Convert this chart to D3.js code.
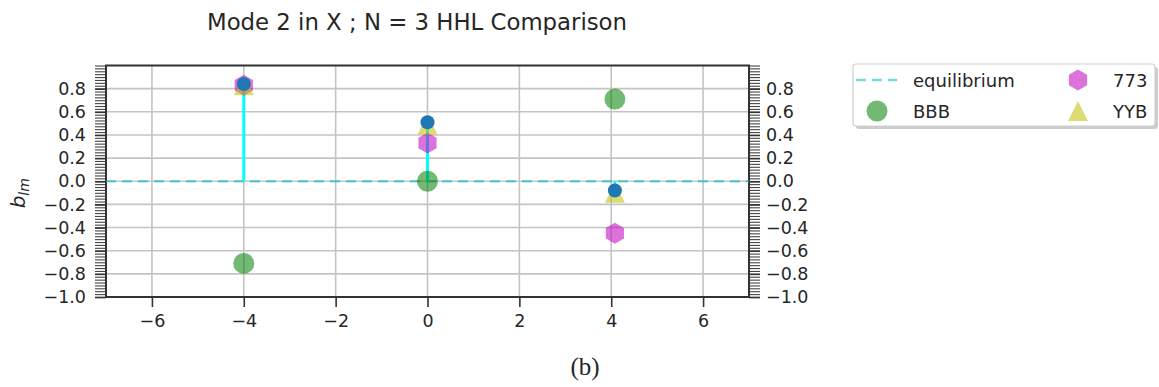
<!DOCTYPE html>
<html>
<head>
<meta charset="utf-8">
<script src="https://cdn.jsdelivr.net/npm/d3@7"></script>
<style>
  html, body { margin: 0; padding: 0; background: #fff; }
  svg { display: block; }
  text { font-family: "DejaVu Sans", sans-serif; fill: #262626; }
</style>
</head>
<body>
<svg id="chart" width="1159" height="387"></svg>
<script>
// Mode positions along X
const positions = [-4, 0, 4.08];
// Stem (HHL) amplitudes
const stemValues = [0.84, 0.51, -0.08];
// Comparison series
const bbbValues = [-0.71, 0.0, 0.71];
const s773Values = [0.83, 0.33, -0.45];
const yybValues = [0.83, 0.49, -0.10];
// Equilibrium level
const equilibrium = 0;
// Tick labels
const xTicks = [-6, -4, -2, 0, 2, 4, 6];
const yTicks = [-1.0, -0.8, -0.6, -0.4, -0.2, 0.0, 0.2, 0.4, 0.6, 0.8];
const legendLabels = ["equilibrium", "BBB", "773", "YYB"];

const svg = d3.select("#chart");
const plot = { left: 106, right: 749, top: 65.5, bottom: 297 };

const x = d3.scaleLinear().domain([-7, 7]).range([plot.left, plot.right]);
const y = d3.scaleLinear().domain([-1, 1]).range([plot.bottom, plot.top]);

// Title
svg.append("text")
  .attr("x", 417).attr("y", 30)
  .attr("text-anchor", "middle")
  .style("font-size", "22.8px")
  .text("Mode 2 in X ; N = 3 HHL Comparison");

// Grid
const grid = svg.append("g");
grid.selectAll(".gx").data(xTicks).join("line")
  .attr("x1", d => x(d)).attr("x2", d => x(d))
  .attr("y1", plot.top).attr("y2", plot.bottom)
  .attr("stroke", "#c4c4c4").attr("stroke-width", 1.6);
grid.selectAll(".gy").data(yTicks).join("line")
  .attr("x1", plot.left).attr("x2", plot.right)
  .attr("y1", d => y(d)).attr("y2", d => y(d))
  .attr("stroke", "#c4c4c4").attr("stroke-width", 1.6);

// Axes
const minorY = d3.range(-1, 1.0001, 0.025);
const tickFmt = d3.format(".1f");
const fmt = d => tickFmt(d).replace("-", "\u2212");

const xAxis = d3.axisBottom(x).tickValues(xTicks).tickSize(10).tickPadding(8)
  .tickFormat(d => String(d).replace("-", "\u2212"));
const gx = svg.append("g").attr("transform", `translate(0,${plot.bottom})`).call(xAxis);
gx.select(".domain").remove();
gx.selectAll("line").attr("stroke", "#333").attr("stroke-width", 1.6);
gx.selectAll("text").style("font-size", "17.5px").attr("fill", "#262626")
  .style("font-family", "'DejaVu Sans', sans-serif");

const leftMinor = d3.axisLeft(y).tickValues(minorY).tickSize(11).tickFormat("");
const gLm = svg.append("g").attr("transform", `translate(${plot.left},0)`).call(leftMinor);
gLm.select(".domain").remove();
gLm.selectAll("line").attr("stroke", "#444").attr("stroke-width", 1.1);

const leftAxis = d3.axisLeft(y).tickValues(yTicks).tickSize(11).tickPadding(9).tickFormat(fmt);
const gL = svg.append("g").attr("transform", `translate(${plot.left},0)`).call(leftAxis);
gL.select(".domain").remove();
gL.selectAll("line").attr("stroke", "#333").attr("stroke-width", 1.6);
gL.selectAll("text").style("font-size", "17.5px").attr("fill", "#262626")
  .style("font-family", "'DejaVu Sans', sans-serif");

const rightMinor = d3.axisRight(y).tickValues(minorY).tickSize(11).tickFormat("");
const gRm = svg.append("g").attr("transform", `translate(${plot.right},0)`).call(rightMinor);
gRm.select(".domain").remove();
gRm.selectAll("line").attr("stroke", "#444").attr("stroke-width", 1.1);

const rightAxis = d3.axisRight(y).tickValues(yTicks).tickSize(11).tickPadding(6).tickFormat(fmt);
const gR = svg.append("g").attr("transform", `translate(${plot.right},0)`).call(rightAxis);
gR.select(".domain").remove();
gR.selectAll("line").attr("stroke", "#333").attr("stroke-width", 1.6);
gR.selectAll("text").style("font-size", "17.5px").attr("fill", "#262626")
  .style("font-family", "'DejaVu Sans', sans-serif");

// Frame
svg.append("rect")
  .attr("x", plot.left).attr("y", plot.top)
  .attr("width", plot.right - plot.left).attr("height", plot.bottom - plot.top)
  .attr("fill", "none").attr("stroke", "#333").attr("stroke-width", 2);

// Y label: b_lm
const yl = svg.append("text")
  .attr("transform", `translate(25,${(plot.top + plot.bottom) / 2 + 12}) rotate(-90)`)
  .attr("text-anchor", "middle");
yl.append("tspan").style("font-style", "italic").style("font-size", "20px").text("b");
yl.append("tspan").attr("dy", 4).style("font-style", "italic").style("font-size", "14px").text("lm");

// Equilibrium baseline
svg.append("line")
  .attr("x1", plot.left).attr("x2", plot.right)
  .attr("y1", y(equilibrium)).attr("y2", y(equilibrium))
  .attr("stroke", "#00bfbf").attr("stroke-opacity", 0.55)
  .attr("stroke-width", 2.6).attr("stroke-dasharray", "10,6");

// Stems
const pts = positions.map((p, i) => ({ p, v: stemValues[i] }));
svg.append("g").selectAll("line").data(pts).join("line")
  .attr("x1", d => x(d.p)).attr("x2", d => x(d.p))
  .attr("y1", y(equilibrium)).attr("y2", d => y(d.v))
  .attr("stroke", "#00ffff").attr("stroke-width", 3);

// Marker shapes
const hexPath = r => d3.range(6).map(k => {
  const a = -Math.PI / 2 + k * Math.PI / 3;
  return [r * Math.cos(a), r * Math.sin(a)];
});
const hexD = r => "M" + hexPath(r).map(p => p.join(",")).join("L") + "Z";
const triD = h => `M0,${-h}L${-h},${h}L${h},${h}Z`;

const green = "#008000", magenta = "#bf00bf", olive = "#bfbf00";

svg.append("g").selectAll("circle").data(positions.map((p, i) => ({ p, v: bbbValues[i] }))).join("circle")
  .attr("cx", d => x(d.p)).attr("cy", d => y(d.v)).attr("r", 10.5)
  .attr("fill", green).attr("fill-opacity", 0.55);

svg.append("g").selectAll("path").data(positions.map((p, i) => ({ p, v: s773Values[i] }))).join("path")
  .attr("transform", d => `translate(${x(d.p)},${y(d.v)})`)
  .attr("d", hexD(10.5))
  .attr("fill", magenta).attr("fill-opacity", 0.55);

svg.append("g").selectAll("path").data(positions.map((p, i) => ({ p, v: yybValues[i] }))).join("path")
  .attr("transform", d => `translate(${x(d.p)},${y(d.v)})`)
  .attr("d", triD(10))
  .attr("fill", olive).attr("fill-opacity", 0.55);

svg.append("g").selectAll("circle").data(pts).join("circle")
  .attr("cx", d => x(d.p)).attr("cy", d => y(d.v)).attr("r", 7)
  .attr("fill", "#1f77b4");

// Legend
const lg = svg.append("g");
lg.append("rect").attr("x", 856).attr("y", 67).attr("width", 302).attr("height", 62)
  .attr("rx", 3).attr("fill", "#999").attr("fill-opacity", 0.5);
lg.append("rect").attr("x", 853).attr("y", 64).attr("width", 302).attr("height", 62)
  .attr("rx", 3).attr("fill", "#fff").attr("stroke", "#d0d0d0").attr("stroke-width", 1.2);

const row1 = 80, row2 = 111;
lg.append("line").attr("x1", 856).attr("x2", 897).attr("y1", row1).attr("y2", row1)
  .attr("stroke", "#00bfbf").attr("stroke-opacity", 0.55)
  .attr("stroke-width", 2.6).attr("stroke-dasharray", "10,6");
lg.append("circle").attr("cx", 877).attr("cy", row2).attr("r", 10.5)
  .attr("fill", green).attr("fill-opacity", 0.55);
lg.append("path").attr("transform", `translate(1078,${row1})`).attr("d", hexD(10.5))
  .attr("fill", magenta).attr("fill-opacity", 0.55);
lg.append("path").attr("transform", `translate(1078,${row2})`).attr("d", triD(10))
  .attr("fill", olive).attr("fill-opacity", 0.55);

const legendPos = [[913, row1], [913, row2], [1113, row1], [1113, row2]];
lg.selectAll("text.lab").data(legendLabels).join("text")
  .attr("x", (d, i) => legendPos[i][0]).attr("y", (d, i) => legendPos[i][1] + 6.5)
  .style("font-size", "18px").text(d => d);

// Panel caption
svg.append("text")
  .attr("x", 585).attr("y", 375)
  .attr("text-anchor", "middle")
  .style("font-family", "'Liberation Serif', 'DejaVu Serif', serif")
  .style("font-size", "25px").attr("fill", "#111")
  .text("(b)");
</script>
</body>
</html>
